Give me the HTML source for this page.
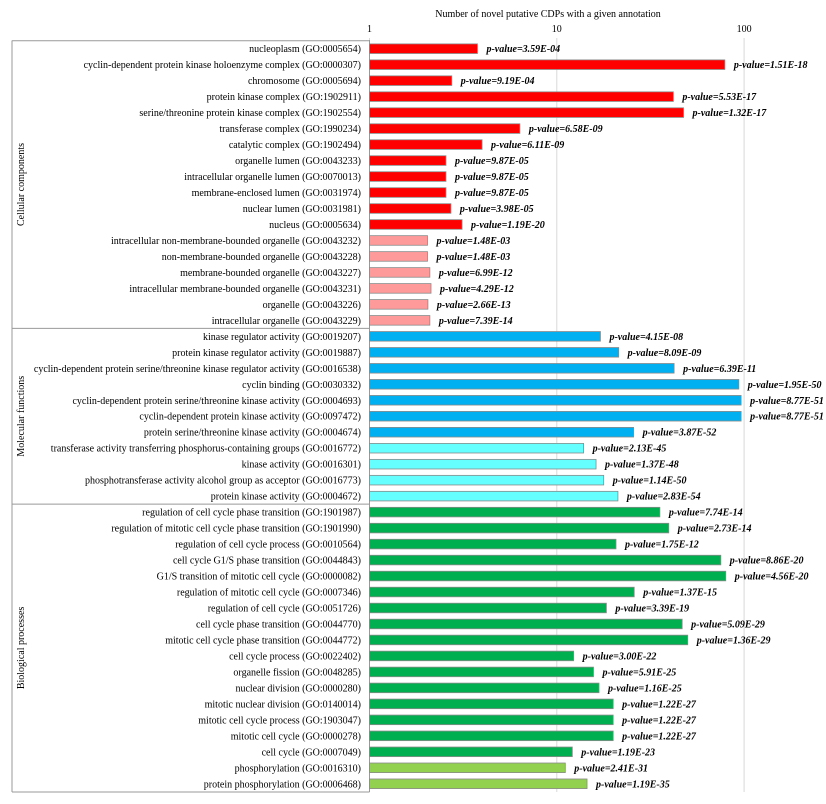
<!DOCTYPE html>
<html><head><meta charset="utf-8"><style>
body{margin:0;background:#fff}
svg{display:block;font-family:"Liberation Serif",serif}
</style></head><body>
<svg id="chart" width="826" height="804" viewBox="0 0 826 804" xmlns="http://www.w3.org/2000/svg">
<text x="548" y="17" font-size="10" text-anchor="middle">Number of novel putative CDPs with a given annotation</text>
<g id="grid"></g>
<g id="bars"></g>
</svg>
<script>
const categories=["nucleoplasm (GO:0005654)","cyclin-dependent protein kinase holoenzyme complex (GO:0000307)","chromosome (GO:0005694)","protein kinase complex (GO:1902911)","serine/threonine protein kinase complex (GO:1902554)","transferase complex (GO:1990234)","catalytic complex (GO:1902494)","organelle lumen (GO:0043233)","intracellular organelle lumen (GO:0070013)","membrane-enclosed lumen (GO:0031974)","nuclear lumen (GO:0031981)","nucleus (GO:0005634)","intracellular non-membrane-bounded organelle (GO:0043232)","non-membrane-bounded organelle (GO:0043228)","membrane-bounded organelle (GO:0043227)","intracellular membrane-bounded organelle (GO:0043231)","organelle (GO:0043226)","intracellular organelle (GO:0043229)",
"kinase regulator activity (GO:0019207)","protein kinase regulator activity (GO:0019887)","cyclin-dependent protein serine/threonine kinase regulator activity (GO:0016538)","cyclin binding (GO:0030332)","cyclin-dependent protein serine/threonine kinase activity (GO:0004693)","cyclin-dependent protein kinase activity (GO:0097472)","protein serine/threonine kinase activity (GO:0004674)","transferase activity transferring phosphorus-containing groups (GO:0016772)","kinase activity (GO:0016301)","phosphotransferase activity alcohol group as acceptor (GO:0016773)","protein kinase activity (GO:0004672)",
"regulation of cell cycle phase transition (GO:1901987)","regulation of mitotic cell cycle phase transition (GO:1901990)","regulation of cell cycle process (GO:0010564)","cell cycle G1/S phase transition (GO:0044843)","G1/S transition of mitotic cell cycle (GO:0000082)","regulation of mitotic cell cycle (GO:0007346)","regulation of cell cycle (GO:0051726)","cell cycle phase transition (GO:0044770)","mitotic cell cycle phase transition (GO:0044772)","cell cycle process (GO:0022402)","organelle fission (GO:0048285)","nuclear division (GO:0000280)","mitotic nuclear division (GO:0140014)","mitotic cell cycle process (GO:1903047)","mitotic cell cycle (GO:0000278)","cell cycle (GO:0007049)","phosphorylation (GO:0016310)","protein phosphorylation (GO:0006468)"];
const counts=[3.77,78.9,2.75,41.9,47.5,6.35,3.99,2.56,2.56,2.56,2.72,3.12,2.04,2.04,2.10,2.13,2.05,2.10,
17.1,21.4,42.3,93.7,96.4,96.4,25.7,13.9,16.2,17.8,21.2,
35.5,39.6,20.7,75.1,79.8,25.9,18.4,46.7,50.0,12.3,15.7,16.8,20.0,20.0,20.0,12.1,11.1,14.5];
const pvalues=["3.59E-04","1.51E-18","9.19E-04","5.53E-17","1.32E-17","6.58E-09","6.11E-09","9.87E-05","9.87E-05","9.87E-05","3.98E-05","1.19E-20","1.48E-03","1.48E-03","6.99E-12","4.29E-12","2.66E-13","7.39E-14",
"4.15E-08","8.09E-09","6.39E-11","1.95E-50","8.77E-51","8.77E-51","3.87E-52","2.13E-45","1.37E-48","1.14E-50","2.83E-54",
"7.74E-14","2.73E-14","1.75E-12","8.86E-20","4.56E-20","1.37E-15","3.39E-19","5.09E-29","1.36E-29","3.00E-22","5.91E-25","1.16E-25","1.22E-27","1.22E-27","1.22E-27","1.19E-23","2.41E-31","1.19E-35"];
const colorGroup=[0,0,0,0,0,0,0,0,0,0,0,0,1,1,1,1,1,1,2,2,2,2,2,2,2,3,3,3,3,4,4,4,4,4,4,4,4,4,4,4,4,4,4,4,4,5,5];
const palette=["#ff0000","#ff9a9a","#00b0f0","#66ffff","#00b050","#92d050"];
const groupNames=["Cellular components","Molecular functions","Biological processes"];
const groupSizes=[18,11,18];
const ticks=[1,10,100];

const NS="http://www.w3.org/2000/svg";
const svg=document.getElementById('chart');
const grid=document.getElementById('grid'), bars=document.getElementById('bars');
const x0=369.5, dec=187.3;
const xs=v=>x0+Math.log10(v)*dec;
const y0=48.7, step=15.98;
const ys=i=>y0+i*step;
function mk(tag,attrs,parent){const e=document.createElementNS(NS,tag);for(const k in attrs)e.setAttribute(k,attrs[k]);parent.appendChild(e);return e;}

ticks.forEach(t=>{
  const l=mk('line',{x1:xs(t),x2:xs(t),y1:38,y2:792,stroke:'#d8d8d8','stroke-width':1},grid);
  
  
  const tx=mk('text',{x:xs(t),y:32,'font-size':10,'text-anchor':'middle'},grid);
  tx.textContent=t;
  
  
});
// axis line
const ax=mk('line',{x1:x0,x2:x0,y1:40,y2:792,stroke:'#999','stroke-width':1},grid);


const lb=mk('line',{x1:12,x2:12,y1:40.5,y2:792,stroke:'#999','stroke-width':1},grid);



let start=0;
groupSizes.forEach((n,g)=>{
  const top=ys(start)-8, bot=ys(start+n-1)+8;
  const s=mk('line',{x1:12,x2:x0,y1:top,y2:top,stroke:'#999','stroke-width':1},grid);
  
  
  const cy=(top+bot)/2;
  const t=mk('text',{x:0,y:0,'font-size':10,'text-anchor':'middle',transform:`translate(24,${cy}) rotate(-90)`},grid);
  t.textContent=groupNames[g];
  
  
  start+=n;
});
const bl=mk('line',{x1:12,x2:x0,y1:792,y2:792,stroke:'#999','stroke-width':1},grid);



categories.forEach((c,i)=>{
  const y=ys(i);
  const lab=mk('text',{x:361,y:y+3.5,'font-size':10,'text-anchor':'end'},bars);
  lab.textContent=c;
  
  
  const w=xs(counts[i])-x0;
  const r=mk('rect',{x:x0,y:y-4.8,width:w,height:9.6,fill:palette[colorGroup[i]],stroke:'#8a8a8a','stroke-width':0.8},bars);
  
  
  const pv=mk('text',{x:x0+w+9,y:y+3.5,'font-size':10,'font-style':'italic','font-weight':'bold'},bars);
  pv.textContent='p-value='+pvalues[i];
  
  
});
</script>
</body></html>
